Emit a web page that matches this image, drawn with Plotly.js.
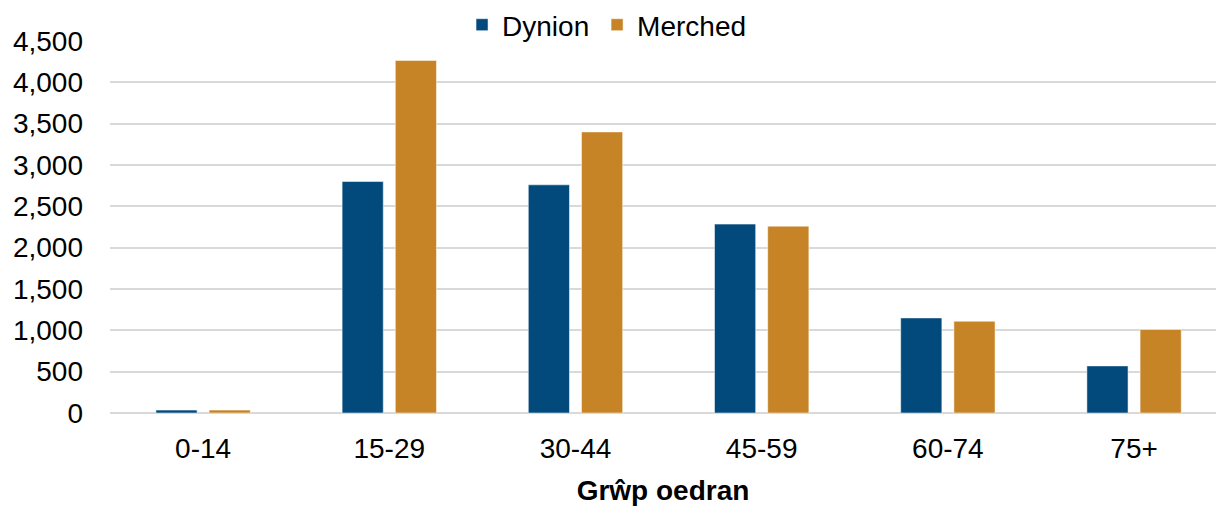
<!DOCTYPE html>
<html>
<head>
<meta charset="utf-8">
<script src="https://cdn.plot.ly/plotly-3.0.1.min.js"></script>
<style>html,body{margin:0;padding:0;background:#fff;}#chart{width:1216px;height:506px;}</style>
</head>
<body>
<div id="chart"></div>
<script>
const categories = ["0-14", "15-29", "30-44", "45-59", "60-74", "75+"];
const dynion = [35, 2800, 2760, 2285, 1150, 570];
const merched = [35, 4265, 3400, 2260, 1110, 1010];
const seriesNames = ["Dynion", "Merched"];
const xTitle = "Grŵp oedran";

const font = "Liberation Sans, Arial, sans-serif";
const traces = [
  {type: "bar", name: seriesNames[0], x: categories, y: dynion, legend: "legend",
   marker: {color: "#034A7C", line: {color: "rgba(255,255,255,0.5)", width: 1}}, hoverinfo: "y"},
  {type: "bar", name: seriesNames[1], x: categories, y: merched, legend: "legend2",
   marker: {color: "#C68427", line: {color: "rgba(255,255,255,0.5)", width: 1}}, hoverinfo: "y"}
];
const legendBase = {orientation: "h", xanchor: "left", y: 1.043, yanchor: "middle",
                    font: {family: font, size: 28, color: "#000"}, bgcolor: "rgba(0,0,0,0)"};
const layout = {
  width: 1216, height: 506,
  margin: {l: 110, r: 0, t: 41, b: 93, pad: 0},
  paper_bgcolor: "#fff", plot_bgcolor: "#fff",
  font: {family: font, size: 28, color: "#000"},
  barmode: "group", bargap: 0.4286, bargroupgap: 0.226,
  showlegend: true,
  legend: Object.assign({}, legendBase, {x: 0.3183}),
  legend2: Object.assign({}, legendBase, {x: 0.4404}),
  xaxis: {type: "category", range: [-0.5, 5.44], showgrid: false, zeroline: false, showline: false,
          ticks: "", ticklabelstandoff: 16, tickfont: {family: font, size: 28},
          title: {text: "<b>" + xTitle + "</b>", font: {family: font, size: 28}, standoff: 17}},
  yaxis: {range: [0, 4500], tickvals: [0,500,1000,1500,2000,2500,3000,3500,4000,4500],
          tickformat: ",", showgrid: true, gridcolor: "#D9D9D9", gridwidth: 2,
          zeroline: true, zerolinecolor: "#D9D9D9", zerolinewidth: 2, showline: false,
          ticks: "", ticklabelstandoff: 26, tickfont: {family: font, size: 28}}
};
Plotly.newPlot("chart", traces, layout, {displayModeBar: false, staticPlot: true});
</script>
</body>
</html>
